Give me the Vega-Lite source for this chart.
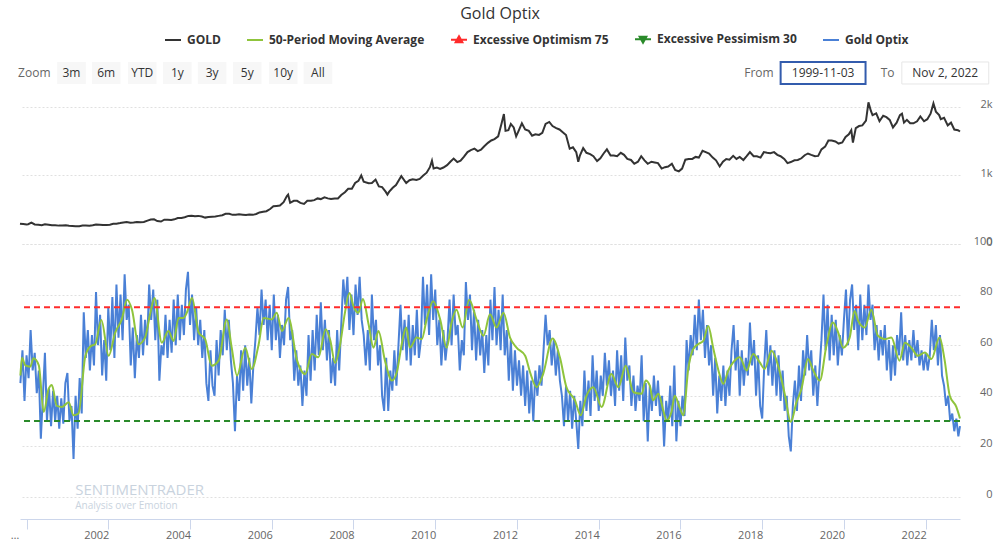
{
"$schema":"https://vega.github.io/schema/vega-lite/v6.json",
"autosize":"none",
"width":940,"height":397,
"padding":{"left":20,"top":100,"right":40,"bottom":48},
"background":"white",
"title":{"text":"Gold Optix","font":"Open Sans","fontSize":16,"fontWeight":"normal","color":"#333333","anchor":"middle","dx":10,"offset":8},
"config":{"view":{"stroke":null},"font":"Open Sans"},
"datasets":{
"gold":[{"t":1999.84,"g":295},{"t":1999.92,"g":290},{"t":2000.0,"g":285},{"t":2000.04,"g":288},{"t":2000.12,"g":312},{"t":2000.2,"g":285},{"t":2000.29,"g":280},{"t":2000.37,"g":275},{"t":2000.45,"g":288},{"t":2000.54,"g":282},{"t":2000.62,"g":275},{"t":2000.7,"g":272},{"t":2000.79,"g":268},{"t":2000.87,"g":270},{"t":2000.96,"g":272},{"t":2001.04,"g":265},{"t":2001.12,"g":262},{"t":2001.2,"g":258},{"t":2001.29,"g":260},{"t":2001.37,"g":270},{"t":2001.45,"g":270},{"t":2001.54,"g":266},{"t":2001.62,"g":273},{"t":2001.7,"g":285},{"t":2001.79,"g":280},{"t":2001.87,"g":276},{"t":2001.96,"g":278},{"t":2002.04,"g":282},{"t":2002.12,"g":296},{"t":2002.2,"g":295},{"t":2002.29,"g":305},{"t":2002.37,"g":315},{"t":2002.45,"g":322},{"t":2002.54,"g":310},{"t":2002.62,"g":312},{"t":2002.7,"g":320},{"t":2002.79,"g":316},{"t":2002.87,"g":320},{"t":2002.96,"g":340},{"t":2003.04,"g":358},{"t":2003.12,"g":360},{"t":2003.2,"g":335},{"t":2003.29,"g":328},{"t":2003.37,"g":355},{"t":2003.45,"g":355},{"t":2003.54,"g":350},{"t":2003.62,"g":360},{"t":2003.7,"g":378},{"t":2003.79,"g":380},{"t":2003.87,"g":390},{"t":2003.96,"g":410},{"t":2004.04,"g":412},{"t":2004.12,"g":405},{"t":2004.2,"g":410},{"t":2004.29,"g":400},{"t":2004.37,"g":385},{"t":2004.45,"g":395},{"t":2004.54,"g":398},{"t":2004.62,"g":400},{"t":2004.7,"g":410},{"t":2004.79,"g":420},{"t":2004.87,"g":440},{"t":2004.96,"g":440},{"t":2005.04,"g":425},{"t":2005.12,"g":425},{"t":2005.2,"g":432},{"t":2005.29,"g":428},{"t":2005.37,"g":422},{"t":2005.45,"g":430},{"t":2005.54,"g":425},{"t":2005.62,"g":438},{"t":2005.7,"g":460},{"t":2005.79,"g":470},{"t":2005.87,"g":478},{"t":2005.96,"g":510},{"t":2006.04,"g":550},{"t":2006.12,"g":555},{"t":2006.2,"g":560},{"t":2006.29,"g":610},{"t":2006.37,"g":700},{"t":2006.4,"g":720},{"t":2006.45,"g":600},{"t":2006.54,"g":630},{"t":2006.62,"g":630},{"t":2006.7,"g":600},{"t":2006.79,"g":585},{"t":2006.87,"g":630},{"t":2006.96,"g":630},{"t":2007.04,"g":640},{"t":2007.12,"g":665},{"t":2007.2,"g":655},{"t":2007.29,"g":680},{"t":2007.37,"g":665},{"t":2007.45,"g":655},{"t":2007.54,"g":665},{"t":2007.62,"g":665},{"t":2007.7,"g":715},{"t":2007.79,"g":755},{"t":2007.87,"g":805},{"t":2007.96,"g":805},{"t":2008.04,"g":890},{"t":2008.12,"g":920},{"t":2008.19,"g":1000},{"t":2008.25,"g":910},{"t":2008.37,"g":885},{"t":2008.45,"g":890},{"t":2008.54,"g":940},{"t":2008.62,"g":840},{"t":2008.7,"g":830},{"t":2008.79,"g":760},{"t":2008.83,"g":720},{"t":2008.87,"g":760},{"t":2008.96,"g":820},{"t":2009.04,"g":860},{"t":2009.12,"g":940},{"t":2009.17,"g":990},{"t":2009.29,"g":890},{"t":2009.37,"g":930},{"t":2009.45,"g":945},{"t":2009.54,"g":935},{"t":2009.62,"g":950},{"t":2009.7,"g":995},{"t":2009.79,"g":1040},{"t":2009.87,"g":1120},{"t":2009.92,"g":1215},{"t":2009.96,"g":1100},{"t":2010.04,"g":1115},{"t":2010.12,"g":1095},{"t":2010.2,"g":1115},{"t":2010.29,"g":1150},{"t":2010.37,"g":1200},{"t":2010.45,"g":1245},{"t":2010.54,"g":1195},{"t":2010.62,"g":1215},{"t":2010.7,"g":1270},{"t":2010.79,"g":1340},{"t":2010.87,"g":1370},{"t":2010.96,"g":1390},{"t":2011.04,"g":1355},{"t":2011.12,"g":1375},{"t":2011.2,"g":1425},{"t":2011.29,"g":1475},{"t":2011.37,"g":1510},{"t":2011.45,"g":1530},{"t":2011.54,"g":1570},{"t":2011.62,"g":1750},{"t":2011.68,"g":1895},{"t":2011.72,"g":1650},{"t":2011.79,"g":1660},{"t":2011.85,"g":1750},{"t":2011.92,"g":1700},{"t":2011.98,"g":1570},{"t":2012.04,"g":1650},{"t":2012.12,"g":1760},{"t":2012.2,"g":1670},{"t":2012.29,"g":1650},{"t":2012.37,"g":1580},{"t":2012.45,"g":1600},{"t":2012.54,"g":1590},{"t":2012.62,"g":1620},{"t":2012.7,"g":1750},{"t":2012.79,"g":1780},{"t":2012.87,"g":1720},{"t":2012.96,"g":1690},{"t":2013.04,"g":1670},{"t":2013.12,"g":1630},{"t":2013.2,"g":1590},{"t":2013.29,"g":1390},{"t":2013.37,"g":1410},{"t":2013.45,"g":1340},{"t":2013.5,"g":1200},{"t":2013.54,"g":1290},{"t":2013.62,"g":1400},{"t":2013.7,"g":1330},{"t":2013.79,"g":1310},{"t":2013.87,"g":1280},{"t":2013.96,"g":1210},{"t":2014.04,"g":1250},{"t":2014.12,"g":1320},{"t":2014.2,"g":1380},{"t":2014.29,"g":1290},{"t":2014.37,"g":1290},{"t":2014.45,"g":1280},{"t":2014.54,"g":1330},{"t":2014.62,"g":1300},{"t":2014.7,"g":1240},{"t":2014.79,"g":1225},{"t":2014.87,"g":1170},{"t":2014.96,"g":1200},{"t":2015.04,"g":1280},{"t":2015.12,"g":1220},{"t":2015.2,"g":1170},{"t":2015.29,"g":1200},{"t":2015.37,"g":1190},{"t":2015.45,"g":1180},{"t":2015.54,"g":1100},{"t":2015.62,"g":1120},{"t":2015.7,"g":1130},{"t":2015.79,"g":1170},{"t":2015.87,"g":1080},{"t":2015.96,"g":1060},{"t":2016.04,"g":1100},{"t":2016.12,"g":1230},{"t":2016.2,"g":1240},{"t":2016.29,"g":1240},{"t":2016.37,"g":1270},{"t":2016.45,"g":1260},{"t":2016.54,"g":1360},{"t":2016.62,"g":1340},{"t":2016.7,"g":1320},{"t":2016.79,"g":1260},{"t":2016.87,"g":1220},{"t":2016.96,"g":1130},{"t":2017.04,"g":1200},{"t":2017.12,"g":1240},{"t":2017.2,"g":1230},{"t":2017.29,"g":1285},{"t":2017.37,"g":1240},{"t":2017.45,"g":1270},{"t":2017.54,"g":1225},{"t":2017.62,"g":1280},{"t":2017.7,"g":1340},{"t":2017.79,"g":1280},{"t":2017.87,"g":1280},{"t":2017.96,"g":1260},{"t":2018.04,"g":1340},{"t":2018.12,"g":1330},{"t":2018.2,"g":1325},{"t":2018.29,"g":1340},{"t":2018.37,"g":1300},{"t":2018.45,"g":1280},{"t":2018.54,"g":1240},{"t":2018.62,"g":1180},{"t":2018.7,"g":1195},{"t":2018.79,"g":1220},{"t":2018.87,"g":1225},{"t":2018.96,"g":1250},{"t":2019.04,"g":1295},{"t":2019.12,"g":1320},{"t":2019.2,"g":1300},{"t":2019.29,"g":1280},{"t":2019.37,"g":1285},{"t":2019.45,"g":1380},{"t":2019.54,"g":1420},{"t":2019.62,"g":1510},{"t":2019.7,"g":1510},{"t":2019.79,"g":1495},{"t":2019.87,"g":1465},{"t":2019.96,"g":1480},{"t":2020.04,"g":1560},{"t":2020.12,"g":1600},{"t":2020.18,"g":1660},{"t":2020.22,"g":1480},{"t":2020.29,"g":1690},{"t":2020.37,"g":1720},{"t":2020.45,"g":1730},{"t":2020.54,"g":1800},{"t":2020.6,"g":2065},{"t":2020.66,"g":1940},{"t":2020.7,"g":1880},{"t":2020.79,"g":1905},{"t":2020.87,"g":1790},{"t":2020.96,"g":1870},{"t":2021.04,"g":1850},{"t":2021.12,"g":1810},{"t":2021.2,"g":1700},{"t":2021.29,"g":1770},{"t":2021.37,"g":1880},{"t":2021.42,"g":1900},{"t":2021.47,"g":1770},{"t":2021.54,"g":1810},{"t":2021.62,"g":1760},{"t":2021.7,"g":1760},{"t":2021.79,"g":1790},{"t":2021.87,"g":1860},{"t":2021.96,"g":1790},{"t":2022.04,"g":1820},{"t":2022.12,"g":1900},{"t":2022.19,"g":2050},{"t":2022.25,"g":1930},{"t":2022.33,"g":1880},{"t":2022.37,"g":1820},{"t":2022.45,"g":1840},{"t":2022.54,"g":1730},{"t":2022.62,"g":1770},{"t":2022.7,"g":1670},{"t":2022.79,"g":1660},{"t":2022.84,"g":1640}],
"optix":[{"t":1999.85,"v":45},{"t":1999.9,"v":58},{"t":1999.95,"v":38},{"t":2000.0,"v":56},{"t":2000.05,"v":47},{"t":2000.1,"v":66},{"t":2000.15,"v":50},{"t":2000.2,"v":57},{"t":2000.25,"v":41},{"t":2000.3,"v":50},{"t":2000.35,"v":23},{"t":2000.4,"v":40},{"t":2000.45,"v":57},{"t":2000.5,"v":30},{"t":2000.55,"v":43},{"t":2000.6,"v":28},{"t":2000.65,"v":42},{"t":2000.7,"v":30},{"t":2000.75,"v":40},{"t":2000.8,"v":27},{"t":2000.85,"v":39},{"t":2000.9,"v":29},{"t":2000.95,"v":45},{"t":2001.0,"v":49},{"t":2001.05,"v":30},{"t":2001.1,"v":36},{"t":2001.15,"v":15},{"t":2001.2,"v":40},{"t":2001.25,"v":27},{"t":2001.3,"v":47},{"t":2001.35,"v":33},{"t":2001.4,"v":73},{"t":2001.45,"v":55},{"t":2001.5,"v":66},{"t":2001.55,"v":50},{"t":2001.6,"v":64},{"t":2001.65,"v":52},{"t":2001.7,"v":81},{"t":2001.75,"v":60},{"t":2001.8,"v":72},{"t":2001.85,"v":48},{"t":2001.9,"v":62},{"t":2001.95,"v":46},{"t":2002.0,"v":75},{"t":2002.05,"v":58},{"t":2002.1,"v":79},{"t":2002.15,"v":55},{"t":2002.2,"v":84},{"t":2002.25,"v":63},{"t":2002.3,"v":80},{"t":2002.35,"v":62},{"t":2002.4,"v":88},{"t":2002.45,"v":70},{"t":2002.5,"v":76},{"t":2002.55,"v":52},{"t":2002.6,"v":67},{"t":2002.65,"v":47},{"t":2002.7,"v":64},{"t":2002.75,"v":55},{"t":2002.8,"v":72},{"t":2002.85,"v":56},{"t":2002.9,"v":70},{"t":2002.95,"v":60},{"t":2003.0,"v":84},{"t":2003.05,"v":70},{"t":2003.1,"v":82},{"t":2003.15,"v":62},{"t":2003.2,"v":78},{"t":2003.25,"v":46},{"t":2003.3,"v":60},{"t":2003.35,"v":56},{"t":2003.4,"v":72},{"t":2003.45,"v":55},{"t":2003.5,"v":70},{"t":2003.55,"v":57},{"t":2003.6,"v":78},{"t":2003.65,"v":60},{"t":2003.7,"v":80},{"t":2003.75,"v":62},{"t":2003.8,"v":76},{"t":2003.85,"v":64},{"t":2003.9,"v":82},{"t":2003.95,"v":89},{"t":2004.0,"v":68},{"t":2004.05,"v":80},{"t":2004.1,"v":62},{"t":2004.15,"v":75},{"t":2004.2,"v":60},{"t":2004.25,"v":70},{"t":2004.3,"v":55},{"t":2004.35,"v":66},{"t":2004.4,"v":45},{"t":2004.45,"v":38},{"t":2004.5,"v":58},{"t":2004.55,"v":44},{"t":2004.6,"v":40},{"t":2004.65,"v":62},{"t":2004.7,"v":48},{"t":2004.75,"v":66},{"t":2004.8,"v":56},{"t":2004.85,"v":74},{"t":2004.9,"v":58},{"t":2004.95,"v":70},{"t":2005.0,"v":54},{"t":2005.05,"v":45},{"t":2005.1,"v":26},{"t":2005.15,"v":48},{"t":2005.2,"v":38},{"t":2005.25,"v":58},{"t":2005.3,"v":42},{"t":2005.35,"v":60},{"t":2005.4,"v":44},{"t":2005.45,"v":55},{"t":2005.5,"v":37},{"t":2005.55,"v":52},{"t":2005.6,"v":62},{"t":2005.65,"v":75},{"t":2005.7,"v":64},{"t":2005.75,"v":82},{"t":2005.8,"v":68},{"t":2005.85,"v":78},{"t":2005.9,"v":62},{"t":2005.95,"v":76},{"t":2006.0,"v":58},{"t":2006.05,"v":80},{"t":2006.1,"v":62},{"t":2006.15,"v":72},{"t":2006.2,"v":55},{"t":2006.25,"v":68},{"t":2006.3,"v":60},{"t":2006.35,"v":78},{"t":2006.4,"v":83},{"t":2006.45,"v":62},{"t":2006.5,"v":66},{"t":2006.55,"v":46},{"t":2006.6,"v":58},{"t":2006.65,"v":44},{"t":2006.7,"v":52},{"t":2006.75,"v":36},{"t":2006.8,"v":50},{"t":2006.85,"v":40},{"t":2006.9,"v":64},{"t":2006.95,"v":46},{"t":2007.0,"v":66},{"t":2007.05,"v":50},{"t":2007.1,"v":72},{"t":2007.15,"v":56},{"t":2007.2,"v":77},{"t":2007.25,"v":58},{"t":2007.3,"v":70},{"t":2007.35,"v":54},{"t":2007.4,"v":66},{"t":2007.45,"v":45},{"t":2007.5,"v":55},{"t":2007.55,"v":44},{"t":2007.6,"v":66},{"t":2007.65,"v":50},{"t":2007.7,"v":68},{"t":2007.75,"v":86},{"t":2007.8,"v":76},{"t":2007.85,"v":87},{"t":2007.9,"v":66},{"t":2007.95,"v":80},{"t":2008.0,"v":64},{"t":2008.05,"v":84},{"t":2008.1,"v":72},{"t":2008.15,"v":87},{"t":2008.2,"v":70},{"t":2008.25,"v":64},{"t":2008.3,"v":52},{"t":2008.35,"v":66},{"t":2008.4,"v":50},{"t":2008.45,"v":80},{"t":2008.5,"v":62},{"t":2008.55,"v":70},{"t":2008.6,"v":52},{"t":2008.65,"v":60},{"t":2008.7,"v":40},{"t":2008.75,"v":34},{"t":2008.8,"v":55},{"t":2008.85,"v":34},{"t":2008.9,"v":50},{"t":2008.95,"v":42},{"t":2009.0,"v":58},{"t":2009.05,"v":44},{"t":2009.1,"v":60},{"t":2009.15,"v":76},{"t":2009.2,"v":58},{"t":2009.25,"v":70},{"t":2009.3,"v":54},{"t":2009.35,"v":72},{"t":2009.4,"v":52},{"t":2009.45,"v":68},{"t":2009.5,"v":56},{"t":2009.55,"v":74},{"t":2009.6,"v":55},{"t":2009.65,"v":62},{"t":2009.7,"v":87},{"t":2009.75,"v":68},{"t":2009.8,"v":84},{"t":2009.85,"v":64},{"t":2009.9,"v":88},{"t":2009.95,"v":70},{"t":2010.0,"v":82},{"t":2010.05,"v":60},{"t":2010.1,"v":70},{"t":2010.15,"v":52},{"t":2010.2,"v":66},{"t":2010.25,"v":54},{"t":2010.3,"v":62},{"t":2010.35,"v":78},{"t":2010.4,"v":60},{"t":2010.45,"v":80},{"t":2010.5,"v":64},{"t":2010.55,"v":68},{"t":2010.6,"v":50},{"t":2010.65,"v":62},{"t":2010.7,"v":56},{"t":2010.75,"v":85},{"t":2010.8,"v":70},{"t":2010.85,"v":80},{"t":2010.9,"v":58},{"t":2010.95,"v":74},{"t":2011.0,"v":54},{"t":2011.05,"v":70},{"t":2011.1,"v":56},{"t":2011.15,"v":66},{"t":2011.2,"v":49},{"t":2011.25,"v":64},{"t":2011.3,"v":52},{"t":2011.35,"v":78},{"t":2011.4,"v":62},{"t":2011.45,"v":83},{"t":2011.5,"v":60},{"t":2011.55,"v":74},{"t":2011.6,"v":58},{"t":2011.65,"v":80},{"t":2011.7,"v":56},{"t":2011.75,"v":66},{"t":2011.8,"v":46},{"t":2011.85,"v":62},{"t":2011.9,"v":42},{"t":2011.95,"v":58},{"t":2012.0,"v":44},{"t":2012.05,"v":54},{"t":2012.1,"v":40},{"t":2012.15,"v":52},{"t":2012.2,"v":36},{"t":2012.25,"v":50},{"t":2012.3,"v":33},{"t":2012.35,"v":46},{"t":2012.4,"v":30},{"t":2012.45,"v":50},{"t":2012.5,"v":40},{"t":2012.55,"v":52},{"t":2012.6,"v":44},{"t":2012.65,"v":58},{"t":2012.7,"v":72},{"t":2012.75,"v":60},{"t":2012.8,"v":66},{"t":2012.85,"v":52},{"t":2012.9,"v":62},{"t":2012.95,"v":48},{"t":2013.0,"v":58},{"t":2013.05,"v":46},{"t":2013.1,"v":40},{"t":2013.15,"v":28},{"t":2013.2,"v":44},{"t":2013.25,"v":30},{"t":2013.3,"v":42},{"t":2013.35,"v":27},{"t":2013.4,"v":40},{"t":2013.45,"v":30},{"t":2013.5,"v":19},{"t":2013.55,"v":38},{"t":2013.6,"v":28},{"t":2013.65,"v":50},{"t":2013.7,"v":34},{"t":2013.75,"v":46},{"t":2013.8,"v":32},{"t":2013.85,"v":56},{"t":2013.9,"v":38},{"t":2013.95,"v":50},{"t":2014.0,"v":34},{"t":2014.05,"v":48},{"t":2014.1,"v":40},{"t":2014.15,"v":57},{"t":2014.2,"v":44},{"t":2014.25,"v":54},{"t":2014.3,"v":40},{"t":2014.35,"v":50},{"t":2014.4,"v":36},{"t":2014.45,"v":58},{"t":2014.5,"v":42},{"t":2014.55,"v":56},{"t":2014.6,"v":38},{"t":2014.65,"v":63},{"t":2014.7,"v":46},{"t":2014.75,"v":52},{"t":2014.8,"v":36},{"t":2014.85,"v":48},{"t":2014.9,"v":34},{"t":2014.95,"v":44},{"t":2015.0,"v":38},{"t":2015.05,"v":56},{"t":2015.1,"v":30},{"t":2015.15,"v":45},{"t":2015.2,"v":22},{"t":2015.25,"v":44},{"t":2015.3,"v":34},{"t":2015.35,"v":48},{"t":2015.4,"v":36},{"t":2015.45,"v":46},{"t":2015.5,"v":32},{"t":2015.55,"v":40},{"t":2015.6,"v":20},{"t":2015.65,"v":38},{"t":2015.7,"v":30},{"t":2015.75,"v":44},{"t":2015.8,"v":28},{"t":2015.85,"v":52},{"t":2015.9,"v":22},{"t":2015.95,"v":38},{"t":2016.0,"v":28},{"t":2016.05,"v":40},{"t":2016.1,"v":32},{"t":2016.15,"v":62},{"t":2016.2,"v":50},{"t":2016.25,"v":64},{"t":2016.3,"v":56},{"t":2016.35,"v":72},{"t":2016.4,"v":58},{"t":2016.45,"v":78},{"t":2016.5,"v":62},{"t":2016.55,"v":74},{"t":2016.6,"v":55},{"t":2016.65,"v":68},{"t":2016.7,"v":52},{"t":2016.75,"v":60},{"t":2016.8,"v":40},{"t":2016.85,"v":55},{"t":2016.9,"v":33},{"t":2016.95,"v":48},{"t":2017.0,"v":38},{"t":2017.05,"v":52},{"t":2017.1,"v":36},{"t":2017.15,"v":50},{"t":2017.2,"v":40},{"t":2017.25,"v":58},{"t":2017.3,"v":68},{"t":2017.35,"v":50},{"t":2017.4,"v":62},{"t":2017.45,"v":40},{"t":2017.5,"v":58},{"t":2017.55,"v":44},{"t":2017.6,"v":55},{"t":2017.65,"v":48},{"t":2017.7,"v":69},{"t":2017.75,"v":52},{"t":2017.8,"v":62},{"t":2017.85,"v":40},{"t":2017.9,"v":56},{"t":2017.95,"v":36},{"t":2018.0,"v":31},{"t":2018.05,"v":52},{"t":2018.1,"v":66},{"t":2018.15,"v":48},{"t":2018.2,"v":60},{"t":2018.25,"v":44},{"t":2018.3,"v":58},{"t":2018.35,"v":40},{"t":2018.4,"v":56},{"t":2018.45,"v":38},{"t":2018.5,"v":50},{"t":2018.55,"v":34},{"t":2018.6,"v":40},{"t":2018.65,"v":24},{"t":2018.7,"v":18},{"t":2018.75,"v":36},{"t":2018.8,"v":46},{"t":2018.85,"v":34},{"t":2018.9,"v":52},{"t":2018.95,"v":38},{"t":2019.0,"v":58},{"t":2019.05,"v":48},{"t":2019.1,"v":64},{"t":2019.15,"v":50},{"t":2019.2,"v":58},{"t":2019.25,"v":40},{"t":2019.3,"v":52},{"t":2019.35,"v":36},{"t":2019.4,"v":50},{"t":2019.45,"v":62},{"t":2019.5,"v":80},{"t":2019.55,"v":58},{"t":2019.6,"v":76},{"t":2019.65,"v":54},{"t":2019.7,"v":72},{"t":2019.75,"v":56},{"t":2019.8,"v":70},{"t":2019.85,"v":52},{"t":2019.9,"v":64},{"t":2019.95,"v":56},{"t":2020.0,"v":70},{"t":2020.05,"v":82},{"t":2020.1,"v":60},{"t":2020.15,"v":78},{"t":2020.2,"v":84},{"t":2020.25,"v":66},{"t":2020.3,"v":76},{"t":2020.35,"v":58},{"t":2020.4,"v":80},{"t":2020.45,"v":62},{"t":2020.5,"v":76},{"t":2020.55,"v":64},{"t":2020.6,"v":84},{"t":2020.65,"v":70},{"t":2020.7,"v":76},{"t":2020.75,"v":58},{"t":2020.8,"v":68},{"t":2020.85,"v":54},{"t":2020.9,"v":66},{"t":2020.95,"v":56},{"t":2021.0,"v":68},{"t":2021.05,"v":50},{"t":2021.1,"v":62},{"t":2021.15,"v":46},{"t":2021.2,"v":60},{"t":2021.25,"v":48},{"t":2021.3,"v":64},{"t":2021.35,"v":56},{"t":2021.4,"v":73},{"t":2021.45,"v":54},{"t":2021.5,"v":64},{"t":2021.55,"v":52},{"t":2021.6,"v":62},{"t":2021.65,"v":54},{"t":2021.7,"v":66},{"t":2021.75,"v":55},{"t":2021.8,"v":62},{"t":2021.85,"v":52},{"t":2021.9,"v":58},{"t":2021.95,"v":50},{"t":2022.0,"v":57},{"t":2022.05,"v":50},{"t":2022.1,"v":56},{"t":2022.15,"v":70},{"t":2022.2,"v":58},{"t":2022.25,"v":68},{"t":2022.3,"v":52},{"t":2022.35,"v":64},{"t":2022.4,"v":48},{"t":2022.45,"v":44},{"t":2022.5,"v":36},{"t":2022.55,"v":40},{"t":2022.6,"v":30},{"t":2022.65,"v":33},{"t":2022.7,"v":26},{"t":2022.75,"v":31},{"t":2022.8,"v":24},{"t":2022.84,"v":28}],
"ma":[{"t":1999.85,"m":48},{"t":1999.89,"m":55},{"t":1999.97,"m":52},{"t":2000.09,"m":51.5},{"t":2000.17,"m":54.8},{"t":2000.3,"m":52},{"t":2000.42,"m":33.6},{"t":2000.54,"m":42.7},{"t":2000.62,"m":44.3},{"t":2000.74,"m":36},{"t":2000.87,"m":35.6},{"t":2001.03,"m":37.5},{"t":2001.15,"m":32.3},{"t":2001.27,"m":33},{"t":2001.44,"m":55.8},{"t":2001.56,"m":59.5},{"t":2001.68,"m":60.4},{"t":2001.83,"m":70},{"t":2002.01,"m":55.8},{"t":2002.17,"m":65},{"t":2002.33,"m":70.2},{"t":2002.46,"m":78},{"t":2002.58,"m":74},{"t":2002.74,"m":60.4},{"t":2002.9,"m":63},{"t":2003.03,"m":72.8},{"t":2003.13,"m":78.7},{"t":2003.31,"m":61},{"t":2003.47,"m":65.6},{"t":2003.6,"m":61.7},{"t":2003.72,"m":70.8},{"t":2003.84,"m":70.8},{"t":2003.92,"m":72.8},{"t":2004.05,"m":78.7},{"t":2004.21,"m":65},{"t":2004.37,"m":62.4},{"t":2004.53,"m":51.9},{"t":2004.7,"m":53.9},{"t":2004.9,"m":70.2},{"t":2005.02,"m":59},{"t":2005.15,"m":48},{"t":2005.35,"m":59},{"t":2005.51,"m":50.6},{"t":2005.68,"m":60.4},{"t":2005.8,"m":70.8},{"t":2006.0,"m":70.2},{"t":2006.12,"m":72.8},{"t":2006.25,"m":65.6},{"t":2006.41,"m":70.8},{"t":2006.61,"m":54.5},{"t":2006.82,"m":48.6},{"t":2006.98,"m":56.5},{"t":2007.14,"m":55.2},{"t":2007.32,"m":66.3},{"t":2007.43,"m":62},{"t":2007.55,"m":53},{"t":2007.67,"m":60},{"t":2007.79,"m":72.8},{"t":2007.9,"m":80.6},{"t":2008.0,"m":75.4},{"t":2008.12,"m":72.8},{"t":2008.23,"m":78.3},{"t":2008.37,"m":68.2},{"t":2008.49,"m":59},{"t":2008.61,"m":65.6},{"t":2008.77,"m":53.9},{"t":2008.94,"m":46},{"t":2009.06,"m":49.3},{"t":2009.18,"m":60.4},{"t":2009.29,"m":67},{"t":2009.38,"m":59},{"t":2009.55,"m":63},{"t":2009.67,"m":62.4},{"t":2009.79,"m":70.2},{"t":2009.95,"m":77.4},{"t":2010.12,"m":70.2},{"t":2010.28,"m":59},{"t":2010.4,"m":69},{"t":2010.52,"m":74},{"t":2010.67,"m":67},{"t":2010.83,"m":78},{"t":2011.01,"m":70.2},{"t":2011.18,"m":63.7},{"t":2011.34,"m":72.2},{"t":2011.5,"m":67},{"t":2011.67,"m":72.8},{"t":2011.83,"m":63},{"t":2011.99,"m":59},{"t":2012.2,"m":55.8},{"t":2012.32,"m":49.3},{"t":2012.48,"m":43.4},{"t":2012.64,"m":48.6},{"t":2012.87,"m":62.6},{"t":2013.05,"m":55.2},{"t":2013.21,"m":43.4},{"t":2013.42,"m":38.2},{"t":2013.56,"m":32.3},{"t":2013.7,"m":40},{"t":2013.87,"m":43.4},{"t":2014.07,"m":35.6},{"t":2014.31,"m":48.6},{"t":2014.48,"m":43.4},{"t":2014.66,"m":51.9},{"t":2014.85,"m":41.4},{"t":2015.05,"m":40.8},{"t":2015.15,"m":46},{"t":2015.25,"m":44},{"t":2015.33,"m":38.2},{"t":2015.46,"m":40.8},{"t":2015.58,"m":34.2},{"t":2015.66,"m":30.3},{"t":2015.78,"m":33.6},{"t":2015.86,"m":40},{"t":2015.99,"m":34.9},{"t":2016.07,"m":32.3},{"t":2016.19,"m":50.6},{"t":2016.31,"m":58.4},{"t":2016.43,"m":60.4},{"t":2016.56,"m":61.7},{"t":2016.68,"m":67.6},{"t":2016.8,"m":59},{"t":2016.92,"m":50.6},{"t":2017.05,"m":44.7},{"t":2017.17,"m":50},{"t":2017.29,"m":53.2},{"t":2017.45,"m":55.2},{"t":2017.62,"m":50},{"t":2017.78,"m":56.5},{"t":2017.94,"m":53.2},{"t":2018.06,"m":50.6},{"t":2018.23,"m":57.8},{"t":2018.39,"m":51.9},{"t":2018.55,"m":40.8},{"t":2018.7,"m":29.7},{"t":2018.84,"m":37.5},{"t":2018.96,"m":42.7},{"t":2019.12,"m":54.5},{"t":2019.25,"m":50},{"t":2019.41,"m":46},{"t":2019.57,"m":59.7},{"t":2019.73,"m":69},{"t":2019.86,"m":65},{"t":2019.98,"m":59},{"t":2020.14,"m":63},{"t":2020.26,"m":73.5},{"t":2020.35,"m":69.5},{"t":2020.51,"m":67},{"t":2020.67,"m":74},{"t":2020.83,"m":63.7},{"t":2021.0,"m":62.4},{"t":2021.16,"m":63},{"t":2021.36,"m":53.9},{"t":2021.49,"m":61},{"t":2021.65,"m":59},{"t":2021.81,"m":55.8},{"t":2021.98,"m":57.1},{"t":2022.14,"m":54.5},{"t":2022.34,"m":63},{"t":2022.46,"m":54.5},{"t":2022.59,"m":40},{"t":2022.75,"m":35.6},{"t":2022.84,"m":31}]
},
"layer":[
{"layer":[
{"data":{"name":"gold"},"mark":{"type":"line","strokeWidth":2,"interpolate":"linear"},
 "encoding":{"x":{"field":"t","type":"quantitative","scale":{"domain":[1999.84,2022.84],"nice":false,"zero":false}},
 "y":{"field":"g","type":"quantitative","scale":{"domain":[0,2100],"range":[144,0],"nice":false,"zero":false},
  "axis":{"orient":"right","title":null,"values":[0,1000,2000],"labelExpr":"datum.value == 0 ? '0' : (datum.value/1000) + 'k'","domain":false,"ticks":false,"labelPadding":32,"labelAlign":"right","labelBaseline":"middle","labelOffset":-2,"labelColor":"#666666","labelFontSize":11,"labelFont":"Open Sans","grid":true,"gridColor":"#e0e0e0","gridDash":[2,2],"gridWidth":1}},
 "color":{"datum":"GOLD","type":"nominal","scale":{"domain":["GOLD","50-Period Moving Average","Excessive Optimism 75","Excessive Pessimism 30","Gold Optix"],"range":["#333333","#8fc43c","#ff2b2b","#2a8a2a","#4a80d6"]},
  "legend":{"orient":"none","legendX":144,"legendY":-70,"direction":"horizontal","columns":5,"title":null,"labelFont":"Open Sans","labelFontSize":12,"labelFontWeight":"bold","labelColor":"#333333","symbolSize":256,"symbolStrokeWidth":2,"columnPadding":22,"labelOffset":5,"labelLimit":300,
   "encode":{"symbols":{"update":{"shape":{"signal":"datum.value === 'Excessive Optimism 75' ? 'M-1,0H1M0,-0.45L0.42,0.3L-0.42,0.3Z' : datum.value === 'Excessive Pessimism 30' ? 'M-1,0H1M0,0.45L0.42,-0.3L-0.42,-0.3Z' : 'stroke'"},"fill":{"signal":"datum.value === 'Excessive Optimism 75' ? '#ff2b2b' : datum.value === 'Excessive Pessimism 30' ? '#2a8a2a' : 'transparent'"},"strokeDash":{"value":[]}}}}}}}},
{"data":{"values":[{"label":"3m","t":2001.10},{"label":"6m","t":2001.95},{"label":"YTD","t":2002.83},{"label":"1y","t":2003.69},{"label":"3y","t":2004.54},{"label":"5y","t":2005.40},{"label":"10y","t":2006.28},{"label":"All","t":2007.13}]},
 "layer":[
 {"mark":{"type":"point","shape":"M-1.3,-1H1.3V1H-1.3Z","size":484,"filled":true,"color":"#f7f7f7","opacity":1},
  "encoding":{"x":{"field":"t","type":"quantitative","scale":{"domain":[1999.84,2022.84],"nice":false,"zero":false}},"y":{"datum":2494,"type":"quantitative","scale":{"domain":[0,2100],"range":[144,0],"nice":false,"zero":false}}}},
 {"mark":{"type":"text","font":"Open Sans","fontSize":12,"color":"#333333","align":"center","baseline":"middle"},
  "encoding":{"text":{"field":"label"},"x":{"field":"t","type":"quantitative","scale":{"domain":[1999.84,2022.84],"nice":false,"zero":false}},"y":{"datum":2494,"type":"quantitative","scale":{"domain":[0,2100],"range":[144,0],"nice":false,"zero":false}}}}
 ]},
{"data":{"values":[{"label":"Zoom","t":2000.19},{"label":"From","t":2017.92},{"label":"To","t":2021.07}]},
 "mark":{"type":"text","font":"Open Sans","fontSize":12,"color":"#666666","align":"center","baseline":"middle"},
 "encoding":{"text":{"field":"label"},"x":{"field":"t","type":"quantitative","scale":{"domain":[1999.84,2022.84],"nice":false,"zero":false}},"y":{"datum":2494,"type":"quantitative","scale":{"domain":[0,2100],"range":[144,0],"nice":false,"zero":false}}}},
{"data":{"values":[{"label":"1999-11-03","t":2019.49}]},
 "layer":[
 {"mark":{"type":"point","shape":"M-3.86,-1H3.86V1H-3.86Z","size":484,"filled":false,"stroke":"#335cad","strokeWidth":2,"fill":"#ffffff","opacity":1},
  "encoding":{"x":{"field":"t","type":"quantitative","scale":{"domain":[1999.84,2022.84],"nice":false,"zero":false}},"y":{"datum":2494,"type":"quantitative","scale":{"domain":[0,2100],"range":[144,0],"nice":false,"zero":false}}}},
 {"mark":{"type":"text","font":"Open Sans","fontSize":12,"color":"#333333","align":"center","baseline":"middle"},
  "encoding":{"text":{"field":"label"},"x":{"field":"t","type":"quantitative","scale":{"domain":[1999.84,2022.84],"nice":false,"zero":false}},"y":{"datum":2494,"type":"quantitative","scale":{"domain":[0,2100],"range":[144,0],"nice":false,"zero":false}}}}
 ]},
{"data":{"values":[{"label":"Nov 2, 2022","t":2022.48}]},
 "layer":[
 {"mark":{"type":"point","shape":"M-3.95,-1H3.95V1H-3.95Z","size":484,"filled":false,"stroke":"#e6e6e6","strokeWidth":1,"fill":"#ffffff","opacity":1},
  "encoding":{"x":{"field":"t","type":"quantitative","scale":{"domain":[1999.84,2022.84],"nice":false,"zero":false}},"y":{"datum":2494,"type":"quantitative","scale":{"domain":[0,2100],"range":[144,0],"nice":false,"zero":false}}}},
 {"mark":{"type":"text","font":"Open Sans","fontSize":12,"color":"#333333","align":"center","baseline":"middle"},
  "encoding":{"text":{"field":"label"},"x":{"field":"t","type":"quantitative","scale":{"domain":[1999.84,2022.84],"nice":false,"zero":false}},"y":{"datum":2494,"type":"quantitative","scale":{"domain":[0,2100],"range":[144,0],"nice":false,"zero":false}}}}
 ]}
]},
{"layer":[
{"data":{"name":"optix"},"mark":{"type":"line","strokeWidth":2},
 "encoding":{"x":{"field":"t","type":"quantitative","scale":{"domain":[1999.84,2022.84],"nice":false,"zero":false},
  "axis":{"title":null,"values":[2000,2002,2004,2006,2008,2010,2012,2014,2016,2018,2020,2022],"labelExpr":"datum.value == 2000 ? '…' : format(datum.value, 'd')","offset":22,"domainColor":"#ccd6eb","tickColor":"#ccd6eb","tickSize":10,"labelPadding":0,"labelOffset":-12,"labelColor":"#666666","labelFontSize":11,"labelFont":"Open Sans","grid":false}},
 "y":{"field":"v","type":"quantitative","scale":{"domain":[0,100],"range":[397,144],"nice":false,"zero":false},
  "axis":{"orient":"right","title":null,"values":[0,20,40,60,80,100],"domain":false,"ticks":false,"labelPadding":32,"labelAlign":"right","labelBaseline":"middle","labelOffset":-3,"labelColor":"#666666","labelFontSize":11,"labelFont":"Open Sans","grid":true,"gridColor":"#e0e0e0","gridDash":[2,2],"gridWidth":1}},
 "color":{"datum":"Gold Optix","type":"nominal"}}},
{"data":{"name":"ma"},"mark":{"type":"line","strokeWidth":2,"interpolate":"monotone"},
 "encoding":{"x":{"field":"t","type":"quantitative","scale":{"domain":[1999.84,2022.84],"nice":false,"zero":false}},
 "y":{"field":"m","type":"quantitative","scale":{"domain":[0,100],"range":[397,144],"nice":false,"zero":false}},
 "color":{"datum":"50-Period Moving Average","type":"nominal"}}},
{"data":{"values":[{"lvl":75}]},"mark":{"type":"rule","strokeDash":[6,4],"strokeWidth":2},
 "encoding":{"y":{"field":"lvl","type":"quantitative","scale":{"domain":[0,100],"range":[397,144],"nice":false,"zero":false}},"color":{"datum":"Excessive Optimism 75","type":"nominal"}}},
{"data":{"values":[{"lvl":30}]},"mark":{"type":"rule","strokeDash":[6,4],"strokeWidth":2},
 "encoding":{"y":{"field":"lvl","type":"quantitative","scale":{"domain":[0,100],"range":[397,144],"nice":false,"zero":false}},"color":{"datum":"Excessive Pessimism 30","type":"nominal"}}},
{"data":{"values":[{"w":"SENTIMENTRADER","lv":2.8,"t":2001.19,"fs":"big"},{"w":"Analysis over Emotion","lv":-3.6,"t":2001.19,"fs":"small"}]},
 "mark":{"type":"text","font":"Open Sans","color":"#c9d3de","align":"left","baseline":"middle"},
 "encoding":{"text":{"field":"w"},"x":{"field":"t","type":"quantitative","scale":{"domain":[1999.84,2022.84],"nice":false,"zero":false}},
 "y":{"field":"lv","type":"quantitative","scale":{"domain":[0,100],"range":[397,144],"nice":false,"zero":false}},
 "size":{"field":"fs","type":"nominal","scale":{"domain":["big","small"],"range":[15,10]},"legend":null}}}
]}
],
"resolve":{"scale":{"y":"independent"},"axis":{"y":"independent"}}
}
